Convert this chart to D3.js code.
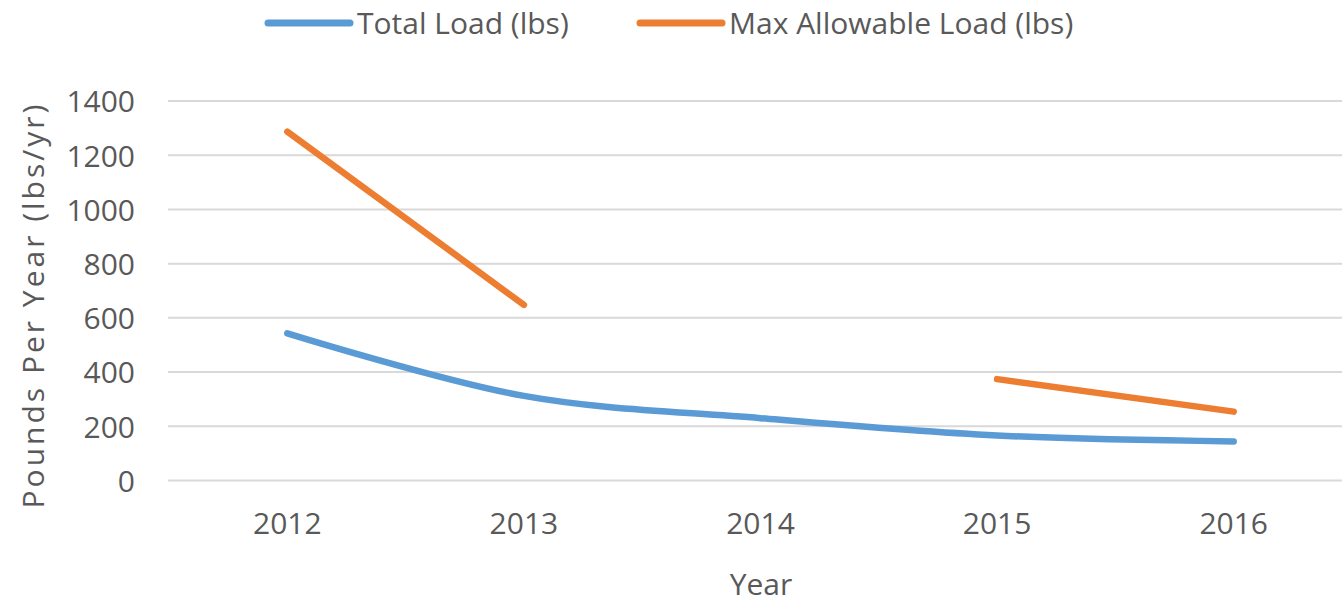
<!DOCTYPE html>
<html>
<head>
<meta charset="utf-8">
<script src="https://cdn.jsdelivr.net/npm/d3@7"></script>
<style>
  html, body { margin: 0; padding: 0; background: #fff; }
  svg { display: block; }
  text { font-family: "Open Sans", sans-serif; fill: #595959; }
</style>
</head>
<body>
<svg id="chart" width="1342" height="604"></svg>
<script>
// Yearly loads
const years = ["2012", "2013", "2014", "2015", "2016"];
const totalLoad = [543, 312, 230, 166, 144];
const maxAllowable = [1287, 648, null, 374, 254];
const yTicks = [0, 200, 400, 600, 800, 1000, 1200, 1400];
const seriesNames = ["Total Load (lbs)", "Max Allowable Load (lbs)"];
const seriesColors = ["#5B9BD5", "#ED7D31"];

const svg = d3.select("#chart");

const x = d3.scaleBand().domain(years).range([169, 1352]).padding(0);
const y = d3.scaleLinear().domain([0, 1400]).range([480.5, 101]);

// Horizontal gridlines
svg.append("g")
  .selectAll("line")
  .data(yTicks)
  .join("line")
  .attr("x1", 168)
  .attr("x2", 1352)
  .attr("y1", d => y(d))
  .attr("y2", d => y(d))
  .attr("stroke", "#d9d9d9")
  .attr("stroke-width", 2);

// Y axis labels
const yAxis = d3.axisLeft(y).tickValues(yTicks).tickFormat(d3.format("d")).tickSize(0).tickPadding(0);
svg.append("g")
  .attr("transform", "translate(135,0)")
  .call(yAxis)
  .call(g => g.select(".domain").remove())
  .call(g => g.selectAll("text")
    .attr("font-size", 30)
    .attr("font-family", "Open Sans, sans-serif")
    .attr("fill", "#595959")
    .attr("dy", "0.36em"));

// X axis labels
const xAxis = d3.axisBottom(x).tickSize(0).tickPadding(0);
svg.append("g")
  .attr("transform", "translate(0,512)")
  .call(xAxis)
  .call(g => g.select(".domain").remove())
  .call(g => g.selectAll("text")
    .attr("font-size", 30)
    .attr("font-family", "Open Sans, sans-serif")
    .attr("fill", "#595959")
    .attr("dy", "0.72em"));

// Axis titles
svg.append("text")
  .attr("x", 761)
  .attr("y", 595)
  .attr("text-anchor", "middle")
  .attr("font-size", 30)
  .text("Year");

svg.append("text")
  .attr("transform", "translate(44,305) rotate(-90)")
  .attr("text-anchor", "middle")
  .attr("font-size", 30)
  .attr("letter-spacing", 3)
  .text("Pounds Per Year (lbs/yr)");

const xc = d => x(d) + x.bandwidth() / 2;

// Total load: smoothed line
const smoothLine = d3.line()
  .defined(d => d.v != null)
  .x(d => xc(d.year))
  .y(d => y(d.v))
  .curve(d3.curveCatmullRom.alpha(0));

// Max allowable: straight segments, gap where no value
const straightLine = d3.line()
  .defined(d => d.v != null)
  .x(d => xc(d.year))
  .y(d => y(d.v));

svg.append("path")
  .datum(years.map((yr, i) => ({ year: yr, v: totalLoad[i] })))
  .attr("d", smoothLine)
  .attr("fill", "none")
  .attr("stroke", seriesColors[0])
  .attr("stroke-width", 6.5)
  .attr("stroke-linecap", "round")
  .attr("stroke-linejoin", "round");

svg.append("path")
  .datum(years.map((yr, i) => ({ year: yr, v: maxAllowable[i] })))
  .attr("d", straightLine)
  .attr("fill", "none")
  .attr("stroke", seriesColors[1])
  .attr("stroke-width", 6.5)
  .attr("stroke-linecap", "round")
  .attr("stroke-linejoin", "round");

// Legend
const legendX = [268, 640];
const legend = svg.append("g");
seriesNames.forEach((name, i) => {
  legend.append("line")
    .attr("x1", legendX[i])
    .attr("x2", legendX[i] + 82)
    .attr("y1", 23)
    .attr("y2", 23)
    .attr("stroke", seriesColors[i])
    .attr("stroke-width", 7)
    .attr("stroke-linecap", "round");
  legend.append("text")
    .attr("x", legendX[i] + 89)
    .attr("y", 23)
    .attr("dy", "0.36em")
    .attr("font-size", 30)
    .text(name);
});
</script>
</body>
</html>
